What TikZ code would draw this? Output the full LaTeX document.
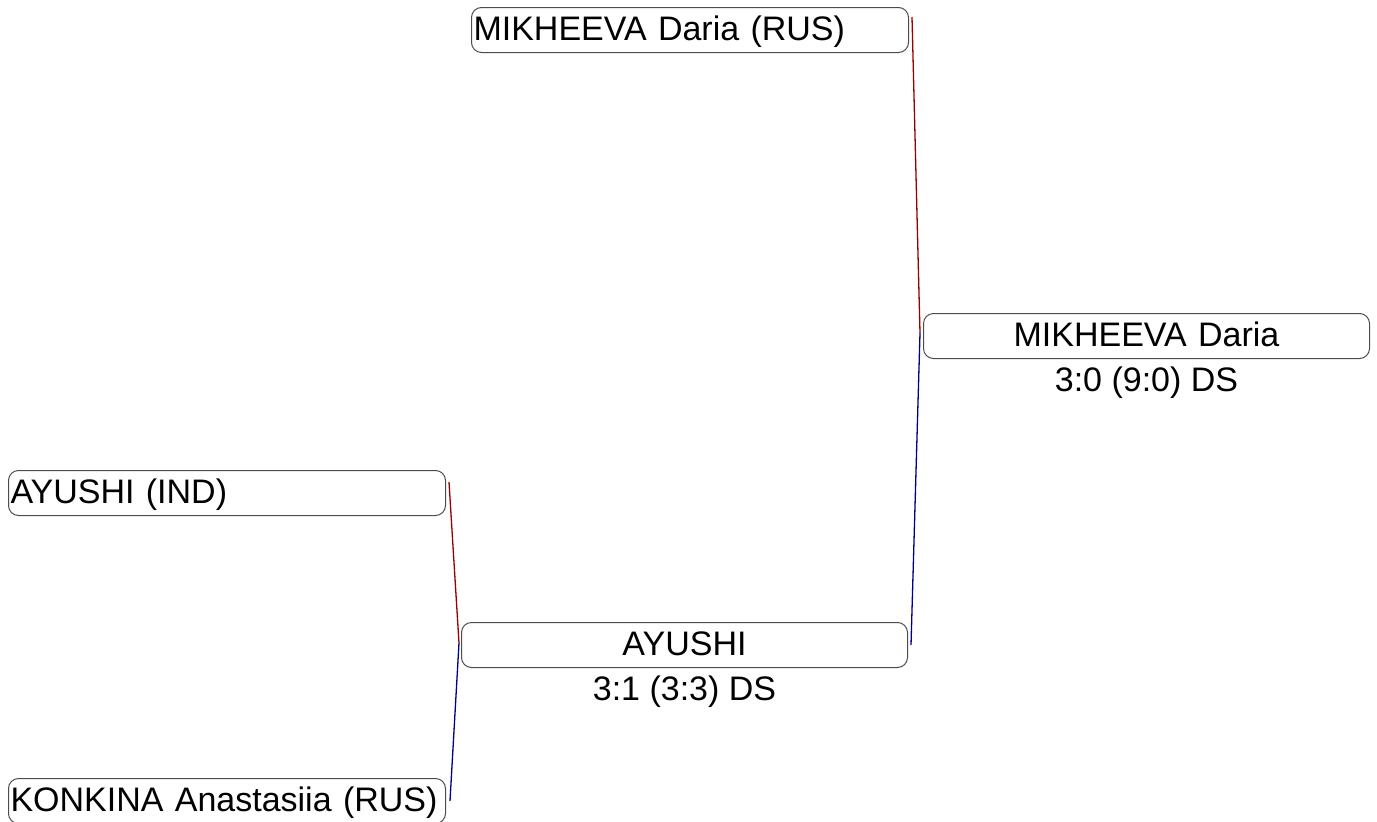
\documentclass[tikz,border=0pt]{standalone}
\usepackage{fontspec}
\setmainfont{Liberation Sans}
\usetikzlibrary{positioning, calc}
\definecolor{winlink}{RGB}{150,0,0}
\definecolor{loselink}{RGB}{0,0,140}

\begin{document}
\begin{tikzpicture}[x=1pt, y=-1pt, every node/.style={font=\fontsize{34}{41}\selectfont}]
  \tikzset{
    playerbox/.style={draw=black!70, line width=1pt, rounded corners=10pt,
      inner xsep=2pt, inner ysep=0pt, text height=27pt, text depth=6pt,
      minimum height=45pt, anchor=north west},
    entrant/.style={playerbox, text width=433pt, align=left},
    victor/.style={playerbox, text width=442pt, align=center},
    score/.style={inner sep=0pt, below=8pt of #1},
    upper/.style={winlink, line width=1.3pt},
    lower/.style={loselink, line width=1.3pt}
  }
  \useasboundingbox (0,0) rectangle (1377,822);
  % first round
  \node[entrant] (ayushi) at (8,470) {AYUSHI (IND)};
  \node[entrant] (konkina) at (8,778) {KONKINA Anastasiia (RUS)};
  \node[entrant] (mikheeva) at (471,7) {MIKHEEVA Daria (RUS)};
  % winners
  \node[victor] (ayushiwin) at (461,622) {AYUSHI};
  \node[score=ayushiwin] (ayushiscore) {3:1 (3:3) DS};
  \node[victor] (mikheevawin) at (923,313) {MIKHEEVA Daria};
  \node[score=mikheevawin] (mikheevascore) {3:0 (9:0) DS};
  % joints
  \coordinate (semijoint) at ($(ayushiwin.west)+(-2,-2)$);
  \coordinate (finaljoint) at ($(mikheevawin.west)+(-3,-3)$);
  \draw[upper] ($(ayushi.north east)+(3,12)$) -- (semijoint);
  \draw[lower] ($(konkina.east)+(4,0)$) -- (semijoint);
  \draw[upper] ($(mikheeva.north east)+(3,10)$) -- (finaljoint);
  \draw[lower] ($(ayushiwin.east)+(3,0)$) -- (finaljoint);
\end{tikzpicture}
\end{document}
